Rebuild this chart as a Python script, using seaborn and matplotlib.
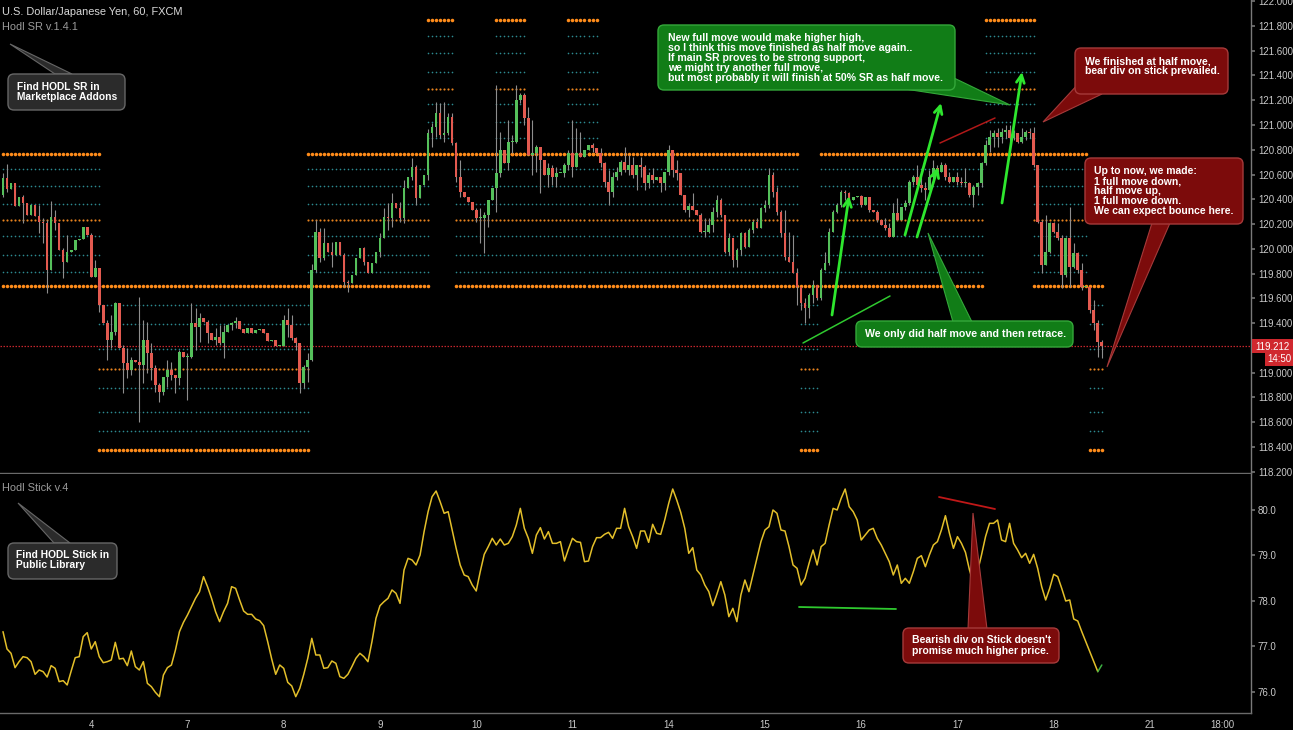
import numpy as np
import pandas as pd
import matplotlib.pyplot as plt
import seaborn as sns
from matplotlib.patches import FancyBboxPatch, Polygon, Rectangle

# Dark TradingView-like look
sns.set_theme(style="dark", rc={
    "axes.facecolor": "black", "figure.facecolor": "black",
    "savefig.facecolor": "black", "axes.edgecolor": "#707070",
    "xtick.color": "#707070", "ytick.color": "#707070", "axes.grid": False,
})
plt.rcParams["font.family"] = ["Liberation Sans", "DejaVu Sans"]

# ---- hourly USD/JPY candles ----
first_open = 120.435
closes = [
    120.572, 120.483, 120.531, 120.346, 120.418, 120.370, 120.273, 120.354, 120.265, 120.216,
    120.208, 119.828, 120.257, 120.208, 119.990, 119.893, 119.974, 119.990, 120.071, 120.079,
    120.176, 120.111, 119.772, 119.845, 119.546, 119.400, 119.263, 119.327, 119.562, 119.198,
    119.077, 119.020, 119.101, 119.085, 119.061, 119.263, 119.158, 119.036, 118.899, 118.843,
    118.964, 119.020, 118.980, 118.956, 119.166, 119.125, 119.125, 119.400, 119.368, 119.441,
    119.408, 119.319, 119.263, 119.287, 119.239, 119.327, 119.384, 119.400, 119.416, 119.352,
    119.319, 119.360, 119.319, 119.344, 119.352, 119.319, 119.255, 119.263, 119.214, 119.214,
    119.425, 119.384, 119.279, 119.239, 118.915, 119.045, 119.101, 119.828, 120.135, 119.925,
    120.047, 119.974, 119.950, 120.055, 119.950, 119.731, 119.723, 119.788, 119.925, 120.006,
    119.893, 119.804, 119.885, 119.974, 120.087, 120.257, 120.249, 120.370, 120.329, 120.249,
    120.491, 120.580, 120.661, 120.410, 120.515, 120.596, 120.935, 120.984, 121.097, 120.919,
    120.935, 121.065, 120.855, 120.580, 120.459, 120.418, 120.378, 120.313, 120.249, 120.249,
    120.273, 120.394, 120.491, 120.612, 120.798, 120.693, 120.863, 120.863, 121.202, 121.242,
    121.057, 120.758, 120.774, 120.822, 120.717, 120.596, 120.653, 120.580, 120.612, 120.612,
    120.677, 120.774, 120.661, 120.774, 120.741, 120.798, 120.838, 120.814, 120.774, 120.693,
    120.539, 120.459, 120.580, 120.620, 120.701, 120.636, 120.677, 120.596, 120.677, 120.661,
    120.531, 120.596, 120.556, 120.580, 120.531, 120.620, 120.798, 120.636, 120.612, 120.434,
    120.313, 120.346, 120.313, 120.273, 120.135, 120.135, 120.192, 120.297, 120.394, 120.273,
    119.974, 120.087, 119.909, 119.990, 120.127, 120.014, 120.152, 120.216, 120.168, 120.329,
    120.354, 120.596, 120.459, 120.297, 120.127, 119.934, 119.893, 119.804, 119.691, 119.562,
    119.521, 119.626, 119.707, 119.602, 119.828, 119.885, 120.135, 120.297, 120.354, 120.459,
    120.450, 120.394, 120.418, 120.426, 120.354, 120.418, 120.313, 120.297, 120.232, 120.192,
    120.168, 120.095, 120.289, 120.232, 120.337, 120.370, 120.539, 120.580, 120.515, 120.491,
    120.475, 120.580, 120.653, 120.620, 120.677, 120.580, 120.539, 120.580, 120.539, 120.531,
    120.531, 120.434, 120.499, 120.531, 120.693, 120.838, 120.903, 120.935, 120.903, 120.943,
    120.960, 120.895, 120.935, 120.863, 120.903, 120.943, 120.935, 120.677, 120.216, 119.869,
    119.974, 120.208, 120.135, 120.087, 119.788, 120.087, 119.853, 119.966, 119.828, 119.691,
    119.691, 119.505, 119.400, 119.247, 119.212,
]

# visible wicks: candle index, high, low
wick_idx = [0, 1, 5, 9, 10, 11, 12, 13, 15, 16, 22, 23, 24, 26, 27, 28, 30, 31, 32, 34,
            35, 36, 37, 38, 39, 40, 41, 42, 43, 44, 46, 47, 48, 49, 51, 53, 54, 55, 57, 58,
            70, 71, 72, 73, 74, 75, 76, 77, 78, 79, 80, 82, 85, 86, 90, 94, 95, 96, 97, 99,
            100, 102, 103, 106, 107, 108, 109, 110, 111, 112, 113, 114, 118, 119, 120, 121, 123, 124, 126, 127,
            128, 129, 130, 131, 132, 133, 134, 136, 137, 138, 140, 141, 142, 143, 144, 147, 149, 150, 151, 152,
            153, 154, 155, 156, 157, 158, 159, 160, 161, 162, 164, 165, 166, 167, 168, 170, 171, 172, 174, 175,
            176, 177, 178, 179, 180, 181, 182, 183, 184, 185, 186, 187, 188, 189, 190, 191, 192, 193, 194, 195,
            196, 197, 198, 199, 200, 201, 202, 203, 204, 205, 206, 207, 208, 209, 210, 211, 214, 216, 218, 220,
            221, 222, 223, 225, 226, 227, 228, 229, 230, 231, 232, 233, 234, 235, 236, 238, 239, 240, 241, 242,
            243, 244, 245, 246, 247, 248, 249, 250, 251, 252, 253, 254, 255, 256, 257, 258, 259, 260, 261, 262,
            263, 264, 265, 266, 267, 268, 269, 271, 272, 273, 274]
wick_hi = [120.612, 120.685, 120.434, 120.354, 120.249, 120.233, 120.386, 120.313, 120.006, 120.111,
           120.127, 119.909, 119.845, 119.425, 119.465, 119.570, 119.223, 119.198, 119.125, 119.611,
           119.425, 119.408, 119.239, 119.061, 118.915, 118.964, 119.101, 119.085, 118.964, 119.182,
           119.158, 119.562, 119.522, 119.481, 119.425, 119.360, 119.384, 119.384, 119.408, 119.449,
           119.465, 119.522, 119.465, 119.287, 119.239, 119.061, 119.158, 119.877, 120.233, 120.168,
           120.168, 120.055, 119.966, 119.748, 120.014, 120.127, 120.329, 120.370, 120.451, 120.378,
           120.556, 120.733, 120.677, 120.968, 121.016, 121.186, 121.178, 121.186, 121.097, 121.097,
           120.863, 120.717, 120.329, 120.329, 120.297, 120.394, 121.323, 120.943, 121.040, 120.919,
           121.323, 121.259, 121.259, 121.145, 121.040, 120.838, 120.822, 120.693, 120.677, 120.661,
           120.693, 120.798, 121.040, 120.976, 120.943, 120.855, 120.814, 120.701, 120.636, 120.620,
           120.661, 120.717, 120.822, 120.758, 120.741, 120.677, 120.741, 120.677, 120.620, 120.653,
           120.539, 120.620, 120.838, 120.798, 120.717, 120.434, 120.370, 120.451, 120.289, 120.249,
           120.249, 120.337, 120.434, 120.410, 120.273, 120.127, 120.087, 120.006, 120.135, 120.135,
           120.168, 120.233, 120.249, 120.337, 120.394, 120.653, 120.620, 120.499, 120.313, 120.313,
           120.135, 120.111, 119.845, 119.691, 119.602, 119.643, 119.748, 119.707, 119.845, 119.974,
           120.168, 120.313, 120.370, 120.475, 120.475, 120.459, 120.434, 120.418, 120.313, 120.249,
           120.208, 120.370, 120.410, 120.394, 120.556, 120.596, 120.677, 120.596, 120.539, 120.636,
           120.717, 120.677, 120.701, 120.693, 120.620, 120.620, 120.580, 120.653, 120.539, 120.515,
           120.539, 120.701, 120.879, 120.960, 120.960, 120.976, 120.976, 121.000, 121.000, 120.960,
           120.935, 120.976, 120.960, 120.976, 120.984, 120.677, 120.233, 120.273, 120.216, 120.216,
           120.208, 120.111, 120.095, 120.337, 120.047, 119.974, 119.885, 119.691, 119.586, 119.425,
           119.263]
wick_lo = [120.418, 120.459, 120.208, 120.127, 120.047, 119.642, 119.828, 120.152, 119.764, 119.893,
           119.772, 119.780, 119.489, 119.101, 119.198, 119.303, 118.834, 118.956, 118.980, 118.600,
           118.915, 118.996, 118.940, 118.842, 118.762, 118.818, 118.883, 118.940, 118.834, 118.899,
           118.778, 119.117, 119.182, 119.247, 119.239, 119.223, 119.223, 119.117, 119.344, 119.360,
           119.223, 119.287, 119.263, 119.182, 118.834, 118.875, 118.924, 119.093, 119.812, 119.893,
           119.909, 119.853, 119.691, 119.651, 119.869, 119.933, 120.087, 120.152, 120.176, 120.216,
           120.208, 120.556, 120.354, 120.556, 120.822, 120.903, 120.895, 120.863, 120.919, 120.838,
           120.539, 120.418, 120.216, 120.047, 119.966, 120.176, 120.297, 120.580, 120.636, 120.774,
           120.855, 121.178, 121.000, 120.758, 120.596, 120.620, 120.450, 120.499, 120.515, 120.499,
           120.580, 120.636, 120.580, 120.782, 120.814, 120.782, 120.661, 120.499, 120.354, 120.418,
           120.556, 120.596, 120.620, 120.596, 120.572, 120.475, 120.580, 120.475, 120.491, 120.531,
           120.459, 120.475, 120.596, 120.580, 120.556, 120.297, 120.257, 120.313, 120.127, 120.095,
           120.127, 120.135, 120.257, 120.257, 119.966, 119.950, 119.853, 119.853, 119.950, 120.006,
           120.014, 120.127, 120.168, 120.208, 120.297, 120.329, 120.418, 120.273, 120.095, 119.909,
           119.933, 119.804, 119.546, 119.506, 119.401, 119.441, 119.562, 119.586, 119.586, 119.828,
           119.869, 120.135, 120.289, 120.337, 120.394, 120.378, 120.337, 120.297, 120.216, 120.152,
           120.095, 120.095, 120.232, 120.313, 120.354, 120.515, 120.499, 120.459, 120.394, 120.475,
           120.556, 120.596, 120.620, 120.556, 120.531, 120.515, 120.515, 120.499, 120.418, 120.337,
           120.434, 120.499, 120.677, 120.782, 120.822, 120.822, 120.855, 120.895, 120.863, 120.879,
           120.855, 120.855, 120.879, 120.895, 120.661, 120.208, 119.805, 119.869, 119.966, 120.127,
           120.071, 119.683, 119.772, 119.691, 119.845, 119.804, 119.667, 119.481, 119.344, 119.126,
           119.118]
last_price = 119.212

# ---- Hodl Stick oscillator ----
stick = [
    77.326, 76.945, 76.850, 76.535, 76.666, 76.776, 76.754, 76.666, 76.388, 76.483,
    76.447, 76.329, 76.579, 76.520, 76.227, 76.249, 76.154, 76.461, 76.754, 76.776,
    77.216, 77.304, 76.945, 77.106, 76.776, 76.644, 76.666, 76.703, 77.091, 76.725,
    76.740, 76.579, 76.901, 76.557, 76.483, 76.666, 76.190, 76.117, 75.992, 75.897,
    76.373, 76.535, 76.593, 76.923, 77.326, 77.531, 77.692, 77.875, 78.058, 78.205,
    78.535, 78.315, 78.058, 77.765, 77.546, 77.765, 77.948, 78.315, 78.278, 78.022,
    77.780, 77.707, 77.707, 77.604, 77.568, 77.458, 77.106, 76.725, 76.388, 76.593,
    76.520, 76.212, 76.132, 75.897, 76.080, 76.388, 76.740, 77.179, 76.813, 76.813,
    76.520, 76.535, 76.681, 76.630, 76.337, 76.300, 76.388, 76.557, 76.740, 76.850,
    76.776, 76.666, 77.106, 77.619, 77.897, 77.985, 78.058, 78.242, 78.168, 77.948,
    78.681, 78.937, 78.901, 78.791, 79.011, 79.524, 79.963, 80.293, 80.417, 80.183,
    79.927, 79.963, 79.560, 79.157, 78.791, 78.571, 78.535, 78.351, 78.220, 78.644,
    79.025, 79.194, 79.377, 79.231, 79.362, 79.231, 79.267, 79.414, 79.670, 80.036,
    79.597, 79.377, 79.047, 79.450, 79.611, 79.362, 79.524, 79.267, 79.267, 79.304,
    78.879, 79.143, 79.377, 79.304, 79.289, 78.864, 78.879, 79.194, 79.392, 79.392,
    79.465, 79.509, 79.377, 79.597, 79.597, 80.036, 79.633, 79.414, 79.157, 79.538,
    79.538, 79.289, 79.685, 79.487, 79.465, 79.780, 80.146, 80.461, 80.220, 79.948,
    79.597, 79.047, 79.172, 78.681, 78.571, 78.351, 78.205, 77.897, 78.146, 78.425,
    78.132, 77.655, 77.839, 77.546, 78.132, 78.461, 78.205, 78.571, 78.937, 79.304,
    79.560, 79.633, 80.000, 79.927, 79.560, 79.538, 79.194, 78.791, 78.718, 78.351,
    78.498, 78.828, 79.121, 78.791, 79.194, 79.267, 79.670, 80.036, 80.000, 80.256,
    80.461, 80.073, 79.963, 79.780, 79.340, 79.450, 79.560, 79.597, 79.377, 79.231,
    79.047, 78.864, 78.571, 78.791, 78.388, 78.498, 78.388, 78.644, 78.937, 78.996,
    78.754, 79.011, 79.231, 79.304, 79.560, 79.875, 79.487, 79.157, 79.414, 79.267,
    79.069, 78.681, 78.388, 78.644, 79.011, 79.414, 79.707, 79.707, 79.780, 79.340,
    79.304, 79.707, 79.267, 79.121, 78.952, 79.047, 78.828, 79.025, 78.718, 78.315,
    78.022, 78.278, 78.586, 78.535, 78.278, 78.000, 78.022, 77.604, 77.560, 77.326,
    77.106, 76.886, 76.666, 76.447, 76.593,
]

# ---- Hodl SR levels and where each grid is shown (candle index ranges) ----
top_levels = [121.848, 121.719, 121.582, 121.428, 121.291, 121.170, 121.024, 120.895, 120.763]
mid_levels = [120.763, 120.642, 120.510, 120.360, 120.230, 120.103, 119.950, 119.815, 119.697]
low_levels = [119.697, 119.549, 119.390, 119.193, 119.032, 118.878, 118.684, 118.528, 118.377]
top_spans = [(106, 112), (123, 130), (141, 148), (245, 257)]
mid_spans = [(0, 24), (76, 106), (113, 198), (204, 244), (257, 270)]
low_spans = [(24, 76), (199, 203), (271, 274)]

day_ticks = [22, 46, 70, 94, 118, 142, 166, 190, 214, 238, 262, 286, 304]
day_labels = ["4", "7", "8", "9", "10", "11", "14", "15", "16", "17", "18", "21", "18:00"]
price_ticks = [118.2, 118.4, 118.6, 118.8, 119.0, 119.2, 119.4, 119.6, 119.8, 120.0,
               120.2, 120.4, 120.6, 120.8, 121.0, 121.2, 121.4, 121.6, 121.8, 122.0]
stick_ticks = [76.0, 77.0, 78.0, 79.0, 80.0]

# ---- build OHLC ----
c = np.array(closes)
o = np.array([first_open] + closes[:-1])
idx = np.arange(len(c))
highs = np.maximum(o, c)
lows = np.minimum(o, c)
for i, h, l in zip(wick_idx, wick_hi, wick_lo):
    highs[i] = max(highs[i], h)
    lows[i] = min(lows[i], l)

W, H = 1293, 730
fig = plt.figure(figsize=(W / 100, H / 100), dpi=100)
ax1 = fig.add_axes([0, (H - 473) / H, 1251 / W, 473 / H])
ax2 = fig.add_axes([0, (H - 713) / H, 1251 / W, 239 / H])
xlim = (-0.75, 311.2)

# SR dots
def draw_grid(levels, spans):
    for a, b in spans:
        xs = np.arange(a, b + 1)
        for j, lv in enumerate(levels):
            ys = np.full(len(xs), lv)
            if j in (0, len(levels) - 1):
                ax1.scatter(xs, ys, s=6.5, color="#ff8c1a", lw=0, zorder=1)
            elif j == 4:
                ax1.scatter(xs, ys, s=2.4, color="#e8831f", lw=0, zorder=1)
            else:
                ax1.scatter(xs, ys, s=1.4, color="#2d8a90", lw=0, zorder=1)

draw_grid(top_levels, top_spans)
draw_grid(mid_levels, mid_spans)
draw_grid(low_levels, low_spans)

ax1.axhline(last_price, color="#c4262d", lw=0.9, ls=(0, (1.2, 1.2)), zorder=1)

# candles
up = c >= o
body_col = np.where(up, "#55c05b", "#e35a50")
ax1.vlines(idx, lows, highs, color="#8e8e8e", lw=0.8, zorder=2)
ax1.bar(idx, np.maximum(np.abs(c - o), 0.006), bottom=np.minimum(c, o), width=0.66,
        color=body_col, lw=0, zorder=3)

ax1.set_xlim(*xlim)
ax1.set_ylim(118.189, 122.0097)
ax1.yaxis.tick_right()
ax1.set_yticks(price_ticks)
ax1.set_yticklabels([f"{t:.3f}" for t in price_ticks])
ax1.tick_params(axis="y", labelcolor="#c8c8c8", labelsize=7, length=3, pad=2, direction="out")
ax1.tick_params(axis="x", bottom=False, labelbottom=False)

# oscillator
df = pd.DataFrame({"bar": np.arange(len(stick)), "stick": stick})
sns.lineplot(data=df.iloc[:-1], x="bar", y="stick", ax=ax2, color="#e3bf2a", linewidth=1.1)
ax2.plot(df["bar"].iloc[-2:], df["stick"].iloc[-2:], color="#3cb043", lw=1.1)
ax2.set_xlim(*xlim)
ax2.set_ylim(75.538, 80.791)
ax2.yaxis.tick_right()
ax2.set_yticks(stick_ticks)
ax2.set_yticklabels([f"{t:.1f}" for t in stick_ticks])
ax2.set_xticks(day_ticks)
ax2.set_xticklabels(day_labels)
ax2.tick_params(axis="y", labelcolor="#c8c8c8", labelsize=7, length=3, pad=2, direction="out")
ax2.tick_params(axis="x", labelcolor="#c8c8c8", labelsize=7, length=3, pad=2, direction="out")
ax2.set_xlabel("")
ax2.set_ylabel("")

for ax in (ax1, ax2):
    ax.spines["left"].set_visible(False)
    ax.spines["top"].set_visible(False)
    ax.spines["right"].set_color("#7a7a7a")
    ax.spines["bottom"].set_color("#6a6a6a")
    ax.spines["right"].set_linewidth(1)
    ax.spines["bottom"].set_linewidth(1)

# ---- overlay for labels, drawings and callouts (pixel space) ----
ov = fig.add_axes([0, 0, 1, 1], facecolor="none")
ov.set_xlim(0, W)
ov.set_ylim(H, 0)
ov.axis("off")

ov.text(2, 12, "U.S. Dollar/Japanese Yen, 60, FXCM", color="#d8d8d8", fontsize=7.9, va="center")
ov.text(2, 27, "Hodl SR v.1.4.1", color="#9a9a9a", fontsize=7.9, va="center")
ov.text(2, 488, "Hodl Stick v.4", color="#9a9a9a", fontsize=7.9, va="center")

# price / time tags
ov.add_patch(Rectangle((1252, 339), 41, 14, fc="#d0282e", ec="none"))
ov.text(1272.5, 346.5, "119.212", color="white", fontsize=7, ha="center", va="center")
ov.add_patch(Rectangle((1265, 353), 28, 13, fc="#d0282e", ec="none"))
ov.text(1279, 359.5, "14:50", color="white", fontsize=7, ha="center", va="center")

# drawn trend lines and arrows
green = "#2ee62e"
for tail, tip in [((832, 315), (849, 196)), ((905, 235), (941, 103)),
                  ((917, 237), (938, 167)), ((1002, 203), (1022, 72))]:
    ov.annotate("", xy=tip, xytext=tail,
                arrowprops=dict(arrowstyle="->", color=green, lw=2, mutation_scale=14,
                                shrinkA=0, shrinkB=0))
ov.plot([803, 890], [343, 296], color="#2fc92f", lw=1.1)
ov.plot([940, 995], [143, 118], color="#b01818", lw=1.1)
ov.plot([799, 896], [607, 609], color="#2fc92f", lw=1.3)
ov.plot([939, 995], [497, 509], color="#c01818", lw=1.3)


def callout(box, base, tip, face, edge, lines, tx, ty, dy, size):
    x0, y0, x1, y1 = box
    ov.add_patch(Polygon([base[0], base[1], tip], closed=True, fc=face, ec=edge, lw=0.8))
    ov.add_patch(FancyBboxPatch((x0, y0), x1 - x0, y1 - y0,
                                boxstyle="round,pad=0,rounding_size=6",
                                fc=face, ec=edge, lw=1))
    for k, line in enumerate(lines):
        ov.text(tx, ty + k * dy, line, color="white", fontsize=size,
                fontweight="bold", va="center", ha="left")


dark_f, dark_e = "#2b2b2b", "#676767"
red_f, red_e = "#7c0b0b", "#a53a3a"
grn_f, grn_e = "#117d17", "#34a83a"

callout((8, 74, 125, 110), ((55, 74), (72, 74)), (10, 44), dark_f, dark_e,
        ["Find HODL SR in", "Marketplace Addons"], 17, 87, 10.5, 7.4)
callout((8, 543, 117, 579), ((54, 543), (70, 543)), (18, 503), dark_f, dark_e,
        ["Find HODL Stick in", "Public Library"], 16, 555, 10.5, 7.4)
callout((658, 25, 955, 90), ((905, 89), (954, 78)), (1010, 105), grn_f, grn_e,
        ["New full move would make higher high,",
         "so I think this move finished as half move again..",
         "If main SR proves to be strong support,",
         "we might try another full move,",
         "but most probably it will finish at 50% SR as half move."],
        668, 38.3, 9.85, 7.6)
callout((1075, 48, 1228, 94), ((1080, 82), (1102, 94)), (1043, 122), red_f, red_e,
        ["We finished at half move,", "bear div on stick prevailed."], 1085, 61, 10.5, 7.6)
callout((1085, 158, 1243, 224), ((1152, 223), (1170, 223)), (1107, 367), red_f, red_e,
        ["Up to now, we made:", "1 full move down,", "half move up,",
         "1 full move down.", "We can expect bounce here."], 1094, 171, 10, 7.5)
callout((856, 321, 1073, 347), ((953, 322), (972, 322)), (928, 233), grn_f, grn_e,
        ["We only did half move and then retrace."], 865, 334, 10, 7.7)
callout((903, 628, 1059, 663), ((968, 629), (987, 629)), (973, 513), red_f, red_e,
        ["Bearish div on Stick doesn't", "promise much higher price."], 912, 640, 10.5, 7.5)

fig.savefig("out.png", dpi=100, facecolor="black")
